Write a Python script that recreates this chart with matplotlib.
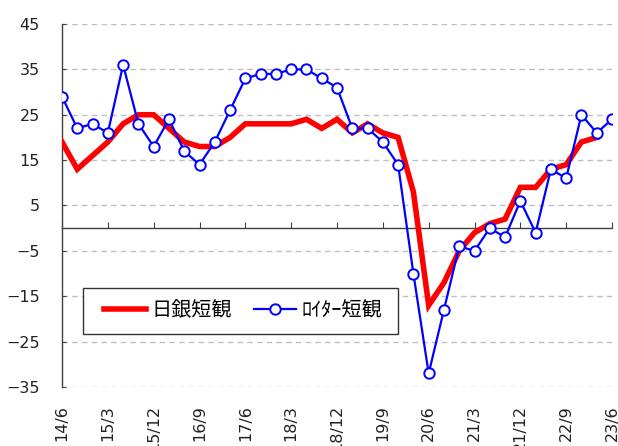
import matplotlib
matplotlib.use("Agg")
import matplotlib.pyplot as plt
from matplotlib.patches import Rectangle

plt.rcParams['font.family'] = ['DejaVu Sans', 'Noto Sans CJK JP']

quarters = ['14/6', '14/9', '14/12', '15/3', '15/6', '15/9', '15/12', '16/3', '16/6', '16/9',
            '16/12', '17/3', '17/6', '17/9', '17/12', '18/3', '18/6', '18/9', '18/12', '19/3',
            '19/6', '19/9', '19/12', '20/3', '20/6', '20/9', '20/12', '21/3', '21/6', '21/9',
            '21/12', '22/3', '22/6', '22/9', '22/12', '23/3', '23/6']

boj_tankan = [19, 13, 16, 19, 23, 25, 25, 22, 19, 18,
              18, 20, 23, 23, 23, 23, 24, 22, 24, 21,
              23, 21, 20, 8, -17, -12, -5, -1, 1, 2,
              9, 9, 13, 14, 19, 20]

reuters_tankan = [29, 22, 23, 21, 36, 23, 18, 24, 17, 14,
                  19, 26, 33, 34, 34, 35, 35, 33, 31, 22,
                  22, 19, 14, -10, -32, -18, -4, -5, 0, -2,
                  6, -1, 13, 11, 25, 21, 24]

tick_labels = ['14/6', '15/3', '15/12', '16/9', '17/6', '18/3', '18/12',
               '19/9', '20/6', '21/3', '21/12', '22/9', '23/6']
y_ticks = [45, 35, 25, 15, 5, -5, -15, -25, -35]

fig = plt.figure(figsize=(6.18, 4.46), dpi=100)
ax = fig.add_axes([62/618, 1-387/446, 550/618, 363/446])

x_boj = list(range(len(boj_tankan)))
x_reu = list(range(len(reuters_tankan)))

ax.plot(x_boj, boj_tankan, color='#ff0000', lw=4.0, solid_joinstyle='miter', label='日銀短観', zorder=3)
ax.plot(x_reu, reuters_tankan, color='#0000ff', lw=1.6, marker='o', markersize=7.5,
        markerfacecolor='white', markeredgecolor='#0000ff', markeredgewidth=1.4,
        label='ﾛｲﾀｰ短観', zorder=4)

ax.set_xlim(0, len(quarters) - 1)
ax.set_ylim(-35, 45)

ax.set_yticks(y_ticks)
for yv in y_ticks:
    ax.axhline(yv, color='#bfbfbf', lw=1.0, ls=(0, (4, 3)), zorder=1)

tick_pos = [quarters.index(t) for t in tick_labels]

ax.spines['top'].set_visible(False)
ax.spines['right'].set_visible(False)
ax.spines['bottom'].set_position(('data', 0))
ax.spines['bottom'].set_color('#404040')
ax.spines['left'].set_color('#404040')
ax.spines['bottom'].set_linewidth(1.0)
ax.spines['left'].set_linewidth(1.0)
ax.set_xticks(tick_pos)
ax.tick_params(axis='x', direction='in', length=4, color='#404040', labelbottom=False)
ax.tick_params(axis='y', direction='in', length=3, color='#404040', pad=16,
               labelsize=11.5, labelcolor='#222222')

sec = ax.secondary_xaxis(0)
sec.set_xticks(tick_pos)
sec.set_xticklabels(tick_labels, rotation=90, fontsize=11.5, color='#222222')
sec.tick_params(length=0, pad=13)
sec.spines['bottom'].set_visible(False)

# legend frame
x0 = (83 - 62) / 550
x1 = (398 - 62) / 550
y1 = (387 - 288) / 363
y0 = (387 - 334) / 363
ax.add_patch(Rectangle((x0, y0), x1 - x0, y1 - y0, transform=ax.transAxes,
                       facecolor='white', edgecolor='#333333', lw=1.0, zorder=5))

leg = ax.legend(loc='center left', bbox_to_anchor=((104 - 62) / 550, (y0 + y1) / 2), ncol=2,
                frameon=False, handlelength=2.1, borderaxespad=0, borderpad=0,
                columnspacing=1.1, handletextpad=0.25,
                prop={'family': ['Noto Sans CJK JP'], 'size': 14.5})
leg.set_zorder(6)

fig.savefig('out.png', dpi=100)
